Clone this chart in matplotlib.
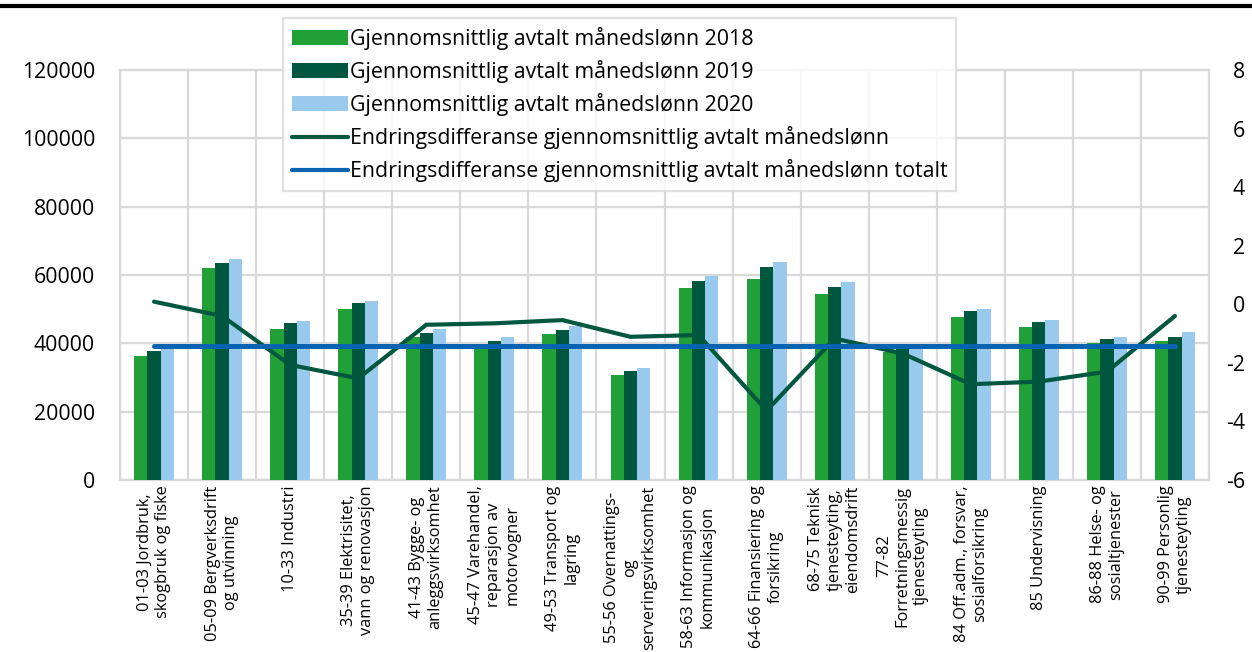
import matplotlib
matplotlib.use("Agg")
import matplotlib.pyplot as plt
import numpy as np
from matplotlib.lines import Line2D
from matplotlib.patches import Patch

plt.rcParams['font.family'] = ['Open Sans', 'DejaVu Sans']
plt.rcParams['axes.unicode_minus'] = False

categories = [
    "01-03 Jordbruk,\nskogbruk og fiske",
    "05-09 Bergverksdrift\nog utvinning",
    "10-33 Industri",
    "35-39 Elektrisitet,\nvann og renovasjon",
    "41-43 Bygge- og\nanleggsvirksomhet",
    "45-47 Varehandel,\nreparasjon av\nmotorvogner",
    "49-53 Transport og\nlagring",
    "55-56 Overnattings-\nog\nserveringsvirksomhet",
    "58-63 Informasjon og\nkommunikasjon",
    "64-66 Finansiering og\nforsikring",
    "68-75 Teknisk\ntjenesteyting,\neiendomsdrift",
    "77-82\nForretningsmessig\ntjenesteyting",
    "84 Off.adm., forsvar,\nsosialforsikring",
    "85 Undervisning",
    "86-88 Helse- og\nsosialtjenester",
    "90-99 Personlig\ntjenesteyting",
]

lonn_2018 = [36400, 62150, 44100, 49960, 41760, 39200, 42730, 30730,
             56300, 58740, 54440, 37400, 47710, 44780, 40190, 40690]
lonn_2019 = [37850, 63520, 45860, 51810, 43120, 40690, 43900, 31900,
             58250, 62260, 56400, 38500, 49560, 46340, 41360, 41950]
lonn_2020 = [38900, 64690, 46540, 52390, 44300, 41760, 45080, 32690,
             59800, 63720, 57950, 38700, 50050, 46730, 41860, 43240]

endring = [0.09, -0.40, -2.07, -2.53, -0.70, -0.65, -0.54, -1.11,
           -1.05, -3.63, -1.17, -1.68, -2.73, -2.64, -2.30, -0.40]
endring_totalt = -1.43

labels = [
    "Gjennomsnittlig avtalt månedslønn 2018",
    "Gjennomsnittlig avtalt månedslønn 2019",
    "Gjennomsnittlig avtalt månedslønn 2020",
    "Endringsdifferanse gjennomsnittlig avtalt månedslønn",
    "Endringsdifferanse gjennomsnittlig avtalt månedslønn totalt",
]

c18 = "#21a038"
c19 = "#00573f"
c20 = "#99c9ec"
cline = "#00573f"
cblue = "#0863b0"
grid = "#d9d9d9"

fig = plt.figure(figsize=(12.52, 6.52), dpi=100)
ax = fig.add_axes([120/1252, 1-480/652, (1209-120)/1252, (480-70)/652])
ax2 = ax.twinx()

x = np.arange(len(categories))
w = 0.195
ax.bar(x - w, lonn_2018, w, color=c18, zorder=3)
ax.bar(x, lonn_2019, w, color=c19, zorder=3)
ax.bar(x + w, lonn_2020, w, color=c20, zorder=3)

ax.set_xlim(-0.5, len(categories) - 0.5)
ax.set_ylim(0, 120000)
ax.set_yticks(np.arange(0, 120001, 20000))
ax.set_xticks(x)
ax.set_xticks(np.arange(-0.5, len(categories), 1), minor=True)
ax.set_xticklabels(categories, rotation=90, ha='center', va='top',
                   multialignment='center', fontsize=11.8, color='#000000',
                   linespacing=1.2)
ax.tick_params(axis='x', which='both', length=0, pad=4)
ax.tick_params(axis='y', length=0, labelsize=15.3, pad=18)
ax.grid(axis='y', which='major', color=grid, linewidth=1.6, zorder=0)
ax.grid(axis='x', which='minor', color=grid, linewidth=1.6, zorder=0)
ax.grid(axis='x', which='major', visible=False)
for s in ax.spines.values():
    s.set_color(grid)
    s.set_linewidth(1.6)

ax2.plot(x, endring, color=cline, linewidth=3.0, solid_capstyle='round',
         solid_joinstyle='miter', zorder=4)
ax2.plot([x[0], x[-1]], [endring_totalt, endring_totalt], color=cblue,
         linewidth=3.6, solid_capstyle='round', zorder=5)
ax2.set_ylim(-6, 8)
ax2.set_yticks(np.arange(-6, 9, 2))
ax2.tick_params(axis='y', length=0, labelsize=15.3, pad=26)
for lbl in ax2.get_yticklabels():
    lbl.set_horizontalalignment('right')
for s in ax2.spines.values():
    s.set_visible(False)

handles = [
    Patch(facecolor=c18), Patch(facecolor=c19), Patch(facecolor=c20),
    Line2D([], [], color=cline, linewidth=3.0, solid_capstyle='round'),
    Line2D([], [], color=cblue, linewidth=3.0, solid_capstyle='round'),
]
leg = fig.legend(handles, labels, loc='upper left',
                 bbox_to_anchor=(283/1252, 1-18/652), fontsize=15.4,
                 frameon=True, fancybox=False, edgecolor=grid,
                 handlelength=2.6, handleheight=0.7, handletextpad=0.1,
                 labelspacing=0.47, borderpad=0.42, borderaxespad=0)
leg.get_frame().set_linewidth(1.6)

fig.add_artist(Line2D([0, 1], [1-5.6/652, 1-5.6/652], color='black',
                      linewidth=3.0, transform=fig.transFigure))

fig.savefig("out.png", dpi=100)
